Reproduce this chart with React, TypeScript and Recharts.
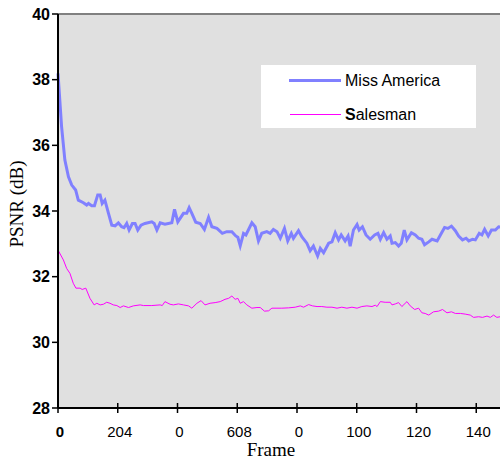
import { LineChart, Line, XAxis, YAxis, CartesianGrid, ReferenceLine } from 'recharts';

// frame positions (x) and PSNR values
const missFrames = [0, 1.2, 2.3, 3.5, 4.6, 5.9, 6.8, 8.5, 9.6, 10.2, 11.3, 12.2, 13.3, 14.1, 14.8, 15.7, 16.9, 18.0, 19.1, 20.2, 21.3, 22.1, 23.0, 23.8, 24.9, 25.8, 26.7, 27.8, 29.1, 31.4, 32.2, 33.1, 34.2, 35.8, 38.1, 39.0, 40.1, 42.0, 43.1, 43.9, 44.8, 46.1, 47.6, 49.0, 50.4, 51.5, 53.2, 55.0, 56.5, 58.2, 59.5, 60.2, 61.0, 62.1, 62.9, 64.9, 66.0, 67.1, 68.2, 69.9, 71.0, 72.1, 73.3, 74.4, 75.8, 76.9, 78.1, 78.8, 80.5, 81.6, 83.3, 84.4, 85.5, 86.9, 87.8, 88.9, 90.6, 91.7, 92.8, 93.9, 94.8, 96.1, 97.1, 97.8, 98.9, 100.1, 100.8, 101.9, 103.1, 104.5, 106.0, 107.1, 107.9, 109.0, 110.1, 111.2, 111.8, 112.9, 114.0, 114.9, 115.9, 116.8, 118.3, 119.6, 120.7, 121.8, 122.7, 124.1, 125.2, 126.9, 128.0, 129.4, 130.5, 131.7, 133.0, 134.1, 135.4, 136.6, 137.5, 138.8, 139.7, 141.0, 141.9, 142.8, 144.0, 145.1, 146.4, 147.5, 148.6];
const missPsnr = [38.19, 36.57, 35.55, 35.04, 34.79, 34.64, 34.33, 34.25, 34.18, 34.23, 34.16, 34.16, 34.49, 34.49, 34.23, 34.33, 33.93, 33.57, 33.55, 33.64, 33.52, 33.49, 33.62, 33.42, 33.62, 33.62, 33.42, 33.57, 33.62, 33.67, 33.62, 33.42, 33.64, 33.6, 33.64, 34.05, 33.67, 33.93, 33.93, 34.1, 33.93, 33.66, 33.62, 33.44, 33.81, 33.52, 33.47, 33.32, 33.37, 33.37, 33.24, 33.2, 32.94, 33.32, 33.27, 33.64, 33.52, 33.09, 33.32, 33.37, 33.32, 33.44, 33.37, 33.17, 33.47, 33.09, 33.32, 33.17, 33.4, 33.22, 33.02, 32.79, 32.93, 32.63, 32.86, 32.73, 33.02, 33.06, 33.34, 33.12, 33.27, 33.09, 33.24, 32.93, 33.42, 33.59, 33.42, 33.52, 33.27, 33.14, 33.27, 33.32, 33.14, 33.34, 33.14, 33.24, 33.02, 33.04, 32.93, 33.02, 33.42, 33.12, 33.34, 33.27, 33.17, 33.14, 32.97, 33.06, 33.14, 33.09, 33.27, 33.5, 33.47, 33.54, 33.4, 33.24, 33.12, 33.17, 33.09, 33.14, 33.12, 33.32, 33.27, 33.44, 33.24, 33.42, 33.42, 33.52, 33.5];

const salesFrames = [0, 1.8, 2.9, 4.0, 5.1, 6.0, 7.4, 8.1, 9.3, 10.7, 12.1, 13.0, 14.1, 15.2, 16.3, 17.4, 18.5, 19.7, 20.8, 21.9, 23.6, 25.2, 27.5, 28.6, 31.4, 34.2, 34.9, 35.8, 37.5, 38.6, 40.3, 42.0, 43.7, 44.8, 46.5, 47.9, 49.2, 50.9, 52.6, 54.3, 55.9, 57.1, 58.2, 59.3, 60.2, 61.0, 62.1, 63.2, 64.9, 66.6, 67.7, 69.1, 70.5, 71.6, 73.3, 74.9, 77.2, 79.4, 81.1, 82.2, 83.9, 85.2, 86.7, 88.3, 90.0, 91.7, 93.4, 95.0, 96.7, 98.4, 100.1, 101.7, 103.4, 105.1, 106.2, 106.8, 107.9, 109.5, 111.2, 111.8, 112.9, 114.0, 115.1, 116.8, 117.9, 119.4, 120.7, 121.8, 122.9, 124.1, 125.7, 127.4, 128.7, 130.2, 131.7, 133.0, 134.7, 136.3, 138.0, 139.1, 140.8, 142.1, 143.6, 144.7, 145.8, 146.9, 148.0];
const salesPsnr = [32.81, 32.51, 32.25, 32.1, 31.8, 31.65, 31.65, 31.61, 31.65, 31.34, 31.14, 31.19, 31.14, 31.16, 31.22, 31.19, 31.14, 31.12, 31.06, 31.11, 31.06, 31.11, 31.14, 31.12, 31.12, 31.14, 31.12, 31.24, 31.16, 31.14, 31.17, 31.14, 31.11, 31.04, 31.19, 31.27, 31.14, 31.19, 31.21, 31.24, 31.31, 31.34, 31.41, 31.31, 31.34, 31.19, 31.24, 31.14, 31.04, 31.06, 31.06, 30.95, 30.96, 31.04, 31.04, 31.04, 31.05, 31.07, 31.11, 31.07, 31.15, 31.11, 31.09, 31.09, 31.07, 31.07, 31.04, 31.07, 31.04, 31.07, 31.04, 31.09, 31.11, 31.09, 31.13, 31.09, 31.24, 31.22, 31.22, 31.14, 31.17, 31.21, 31.09, 31.24, 31.11, 31.0, 31.04, 30.9, 30.88, 30.83, 30.93, 30.95, 31.0, 30.9, 30.93, 30.88, 30.88, 30.86, 30.83, 30.76, 30.78, 30.76, 30.8, 30.76, 30.83, 30.76, 30.78];

const xTicks = [0, 20, 40, 60, 80, 100, 120, 140];
const xTickLabels = ['0', '204', '0', '608', '0', '100', '120', '140'];
const yTicks = [28, 30, 32, 34, 36, 38, 40];

const missData = missFrames.map((frame, i) => ({ frame, psnr: missPsnr[i] }));
const salesData = salesFrames.map((frame, i) => ({ frame, psnr: salesPsnr[i] }));

const sans = '"Liberation Sans", Arial, sans-serif';
const serif = '"Liberation Serif", "Times New Roman", serif';

const CHART_H = 461;
const X_AXIS_H = 53;
const PLOT_BOTTOM = CHART_H - X_AXIS_H;

function XTick(props: any) {
  const { x, payload, index } = props;
  return (
    <g>
      <line x1={x} x2={x} y1={PLOT_BOTTOM - 5} y2={PLOT_BOTTOM + 5} stroke="#000" strokeWidth={1.5} />
      <text x={x + 2} y={PLOT_BOTTOM + 29} textAnchor="middle" fontSize={15} fontFamily={sans} fontWeight={index === 0 ? 'bold' : 'normal'} fill="#000">
        {xTickLabels[xTicks.indexOf(payload.value)]}
      </text>
    </g>
  );
}

function XLabel({ viewBox }: any) {
  const cx = viewBox.x + viewBox.width / 2 - 26;
  return (
    <text x={cx} y={CHART_H - 5} textAnchor="middle" fontFamily={serif} fontSize={19} fill="#000">Frame</text>
  );
}

function YLabel({ viewBox }: any) {
  const cx = viewBox.x + 23;
  const cy = viewBox.y + viewBox.height / 2 - 7;
  return (
    <text x={cx} y={cy} transform={`rotate(-90, ${cx}, ${cy})`} textAnchor="middle" fontFamily={serif} fontSize={19} fill="#000">PSNR (dB)</text>
  );
}

function LegendBox() {
  return (
    <div style={{ position: 'absolute', left: 261, top: 65, width: 215, height: 63, background: '#fff', fontFamily: sans, fontSize: 16, color: '#000' }}>
      <div style={{ position: 'absolute', left: 28, top: 14, width: 52, height: 3, background: '#8080ff' }} />
      <div style={{ position: 'absolute', left: 84, top: 6, lineHeight: '20px' }}>Miss America</div>
      <div style={{ position: 'absolute', left: 29, top: 49, width: 51, height: 1, background: '#ff00ff' }} />
      <div style={{ position: 'absolute', left: 84, top: 40, lineHeight: '20px' }}><b>S</b>alesman</div>
    </div>
  );
}

export default function App() {
  return (
    <div style={{ position: 'absolute', left: 0, top: 0, width: 500, height: CHART_H, overflow: 'hidden', background: '#fff' }}>
      <LineChart width={540} height={CHART_H} margin={{ top: 14, right: 4, left: 0, bottom: 0 }}>
        <CartesianGrid fill="#e0e0e0" horizontal={false} vertical={false} />
        <XAxis
          type="number"
          dataKey="frame"
          domain={[0, 160]}
          ticks={xTicks}
          allowDuplicatedCategory={false}
          height={X_AXIS_H}
          tickLine={false}
          axisLine={{ stroke: '#000', strokeWidth: 2 }}
          tick={<XTick />}
          label={<XLabel />}
        />
        <YAxis
          type="number"
          domain={[28, 40]}
          ticks={yTicks}
          width={58}
          tickSize={6}
          tickMargin={2}
          tickLine={{ stroke: '#000', strokeWidth: 1.5 }}
          axisLine={{ stroke: '#000', strokeWidth: 2 }}
          tick={{ fill: '#000', fontSize: 16, fontWeight: 'bold', fontFamily: sans }}
          label={<YLabel />}
        />
        <ReferenceLine y={40} stroke="#808080" strokeWidth={2} />
        <Line data={missData} dataKey="psnr" name="Miss America" stroke="#8080ff" strokeWidth={3} dot={false} isAnimationActive={false} />
        <Line data={salesData} dataKey="psnr" name="Salesman" stroke="#ff00ff" strokeWidth={1} dot={false} isAnimationActive={false} />
      </LineChart>
      <LegendBox />
    </div>
  );
}
